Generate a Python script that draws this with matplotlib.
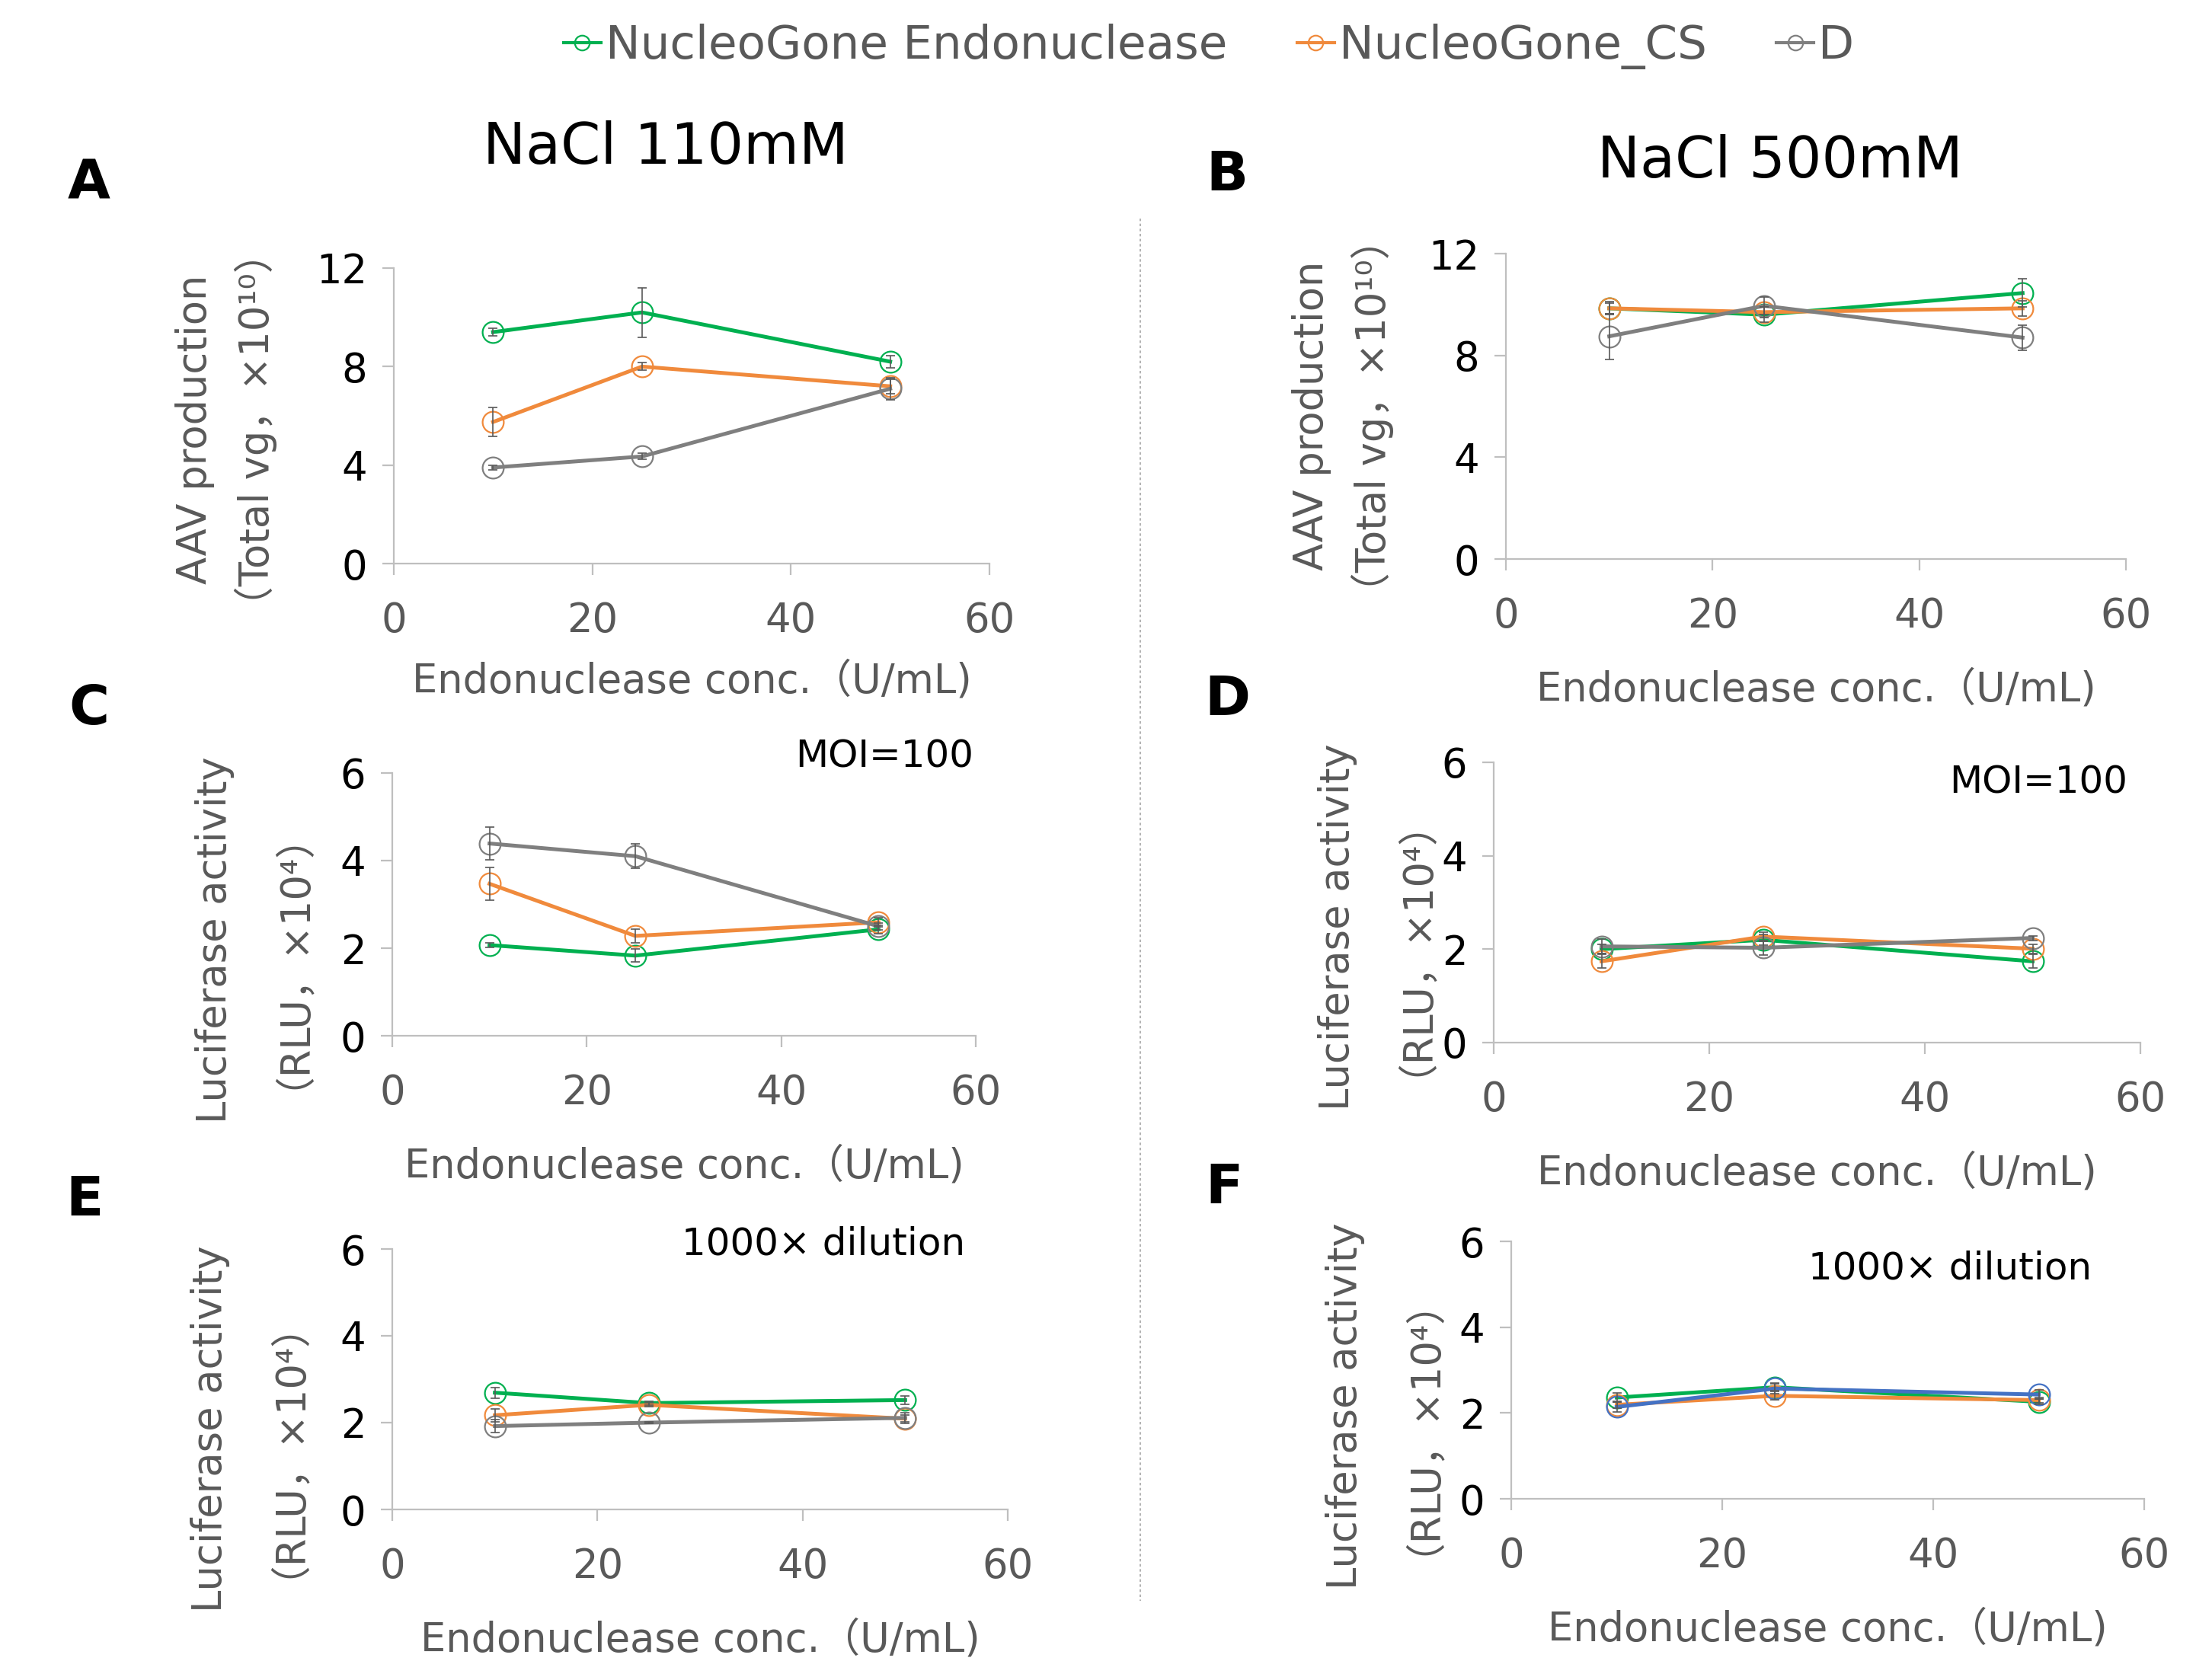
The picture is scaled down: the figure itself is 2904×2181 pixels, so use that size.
"""Endonuclease dose series: AAV production and luciferase activity at two NaCl levels."""
import matplotlib
matplotlib.use("Agg")
import matplotlib.pyplot as plt
from matplotlib.lines import Line2D

# Cores no estilo Excel
GREEN = "#00B050"
ORANGE = "#F08A3C"
GRAY = "#7F7F7F"
BLUE = "#4472C4"
INK = "#000000"
INK_GRAY = "#595959"
AXIS = "#BFBFBF"

NARROW = ["Liberation Sans Narrow", "DejaVu Sans"]
WIDE = ["DejaVu Sans", "Noto Sans CJK JP"]

conc = [10, 25, 50]
series_names = ["NucleoGone Endonuclease", "NucleoGone_CS", "D"]

# Painel A - NaCl 110mM, produção de AAV
a_endo, a_endo_err = [9.4, 10.2, 8.2], [0.15, 1.0, 0.25]
a_cs, a_cs_err = [5.75, 8.0, 7.2], [0.6, 0.15, 0.3]
a_d, a_d_err = [3.9, 4.35, 7.1], [0.1, 0.12, 0.45]
# Painel B - NaCl 500mM, produção de AAV
b_endo, b_endo_err = [9.85, 9.6, 10.45], [0.2, 0.3, 0.55]
b_cs, b_cs_err = [9.85, 9.7, 9.85], [0.25, 0.2, 0.3]
b_d, b_d_err = [8.75, 9.95, 8.7], [0.9, 0.35, 0.5]
# Painel C - NaCl 110mM, luciferase MOI=100
c_endo, c_endo_err = [2.07, 1.83, 2.43], [0.05, 0.15, 0.1]
c_cs, c_cs_err = [3.47, 2.28, 2.59], [0.37, 0.15, 0.1]
c_d, c_d_err = [4.39, 4.1, 2.5], [0.37, 0.28, 0.08]
# Painel D - NaCl 500mM, luciferase MOI=100
d_endo, d_endo_err = [2.0, 2.2, 1.74], [0.1, 0.12, 0.15]
d_cs, d_cs_err = [1.74, 2.27, 2.01], [0.15, 0.1, 0.1]
d_d, d_d_err = [2.06, 2.03, 2.24], [0.15, 0.15, 0.05]
# Painel E - NaCl 110mM, luciferase 1000x diluição
e_endo, e_endo_err = [2.69, 2.45, 2.52], [0.12, 0.05, 0.1]
e_cs, e_cs_err = [2.17, 2.41, 2.09], [0.15, 0.05, 0.08]
e_d, e_d_err = [1.92, 2.0, 2.11], [0.15, 0.02, 0.12]
# Painel F - NaCl 500mM, luciferase 1000x diluição
f_endo, f_endo_err = [2.36, 2.6, 2.26], [0.1, 0.08, 0.06]
f_cs, f_cs_err = [2.19, 2.4, 2.3], [0.08, 0.1, 0.06]
f_d, f_d_err = [2.14, 2.57, 2.43], [0.12, 0.12, 0.1]

xticks = [0, 20, 40, 60]
aav_yticks = [0, 4, 8, 12]
luc_yticks = [0, 2, 4, 6]

XLABEL = "Endonuclease conc.（U/mL)"
AAV_YLABEL = "AAV production\n（Total vg，×10¹⁰）"
LUC_YLABEL = "Luciferase activity\n（RLU，×10⁴）"

W, H = 2904, 2181
fig = plt.figure(figsize=(W / 200, H / 200), dpi=200, facecolor="white")


def px_rect(left, right, top, bottom):
    return [left / W, 1 - bottom / H, (right - left) / W, (bottom - top) / H]


def panel(rect, series, colors, yticks, ylabel, ylab_xy, xlab_pad):
    ax = fig.add_axes(px_rect(*rect))
    for (y, err), color in zip(series, colors):
        ax.plot(conc, y, color=color, lw=1.8, marker="o", ms=10,
                mfc="none", mec=color, mew=0.8, zorder=3)
        ax.errorbar(conc, y, yerr=err, fmt="none", ecolor=INK_GRAY,
                    elinewidth=0.6, capsize=2.2, capthick=0.6, zorder=4)
    ax.set_xlim(0, 60)
    ax.set_ylim(yticks[0], yticks[-1])
    ax.set_xticks(xticks)
    ax.set_yticks(yticks)
    for side in ("top", "right"):
        ax.spines[side].set_visible(False)
    for side in ("left", "bottom"):
        ax.spines[side].set_color(AXIS)
        ax.spines[side].set_linewidth(0.8)
    ax.tick_params(axis="both", direction="out", length=5.5, width=0.8, color=AXIS)
    ax.tick_params(axis="x", pad=12, labelcolor=INK_GRAY)
    ax.tick_params(axis="y", pad=7, labelcolor=INK)
    for lab in ax.get_xticklabels() + ax.get_yticklabels():
        lab.set_family(NARROW)
        lab.set_fontsize(19)
    ax.set_xlabel(XLABEL, family=WIDE, fontsize=19, color=INK_GRAY, labelpad=xlab_pad)
    fig.text(ylab_xy[0] / W, 1 - ylab_xy[1] / H, ylabel, rotation=90,
             ha="center", va="center", multialignment="center",
             family=WIDE, fontsize=19, color=INK_GRAY, linespacing=1.55)
    return ax


cols3 = [GREEN, ORANGE, GRAY]
ax_a = panel((517, 1299, 352, 740),
             [(a_endo, a_endo_err), (a_cs, a_cs_err), (a_d, a_d_err)],
             cols3, aav_yticks, AAV_YLABEL, (297, 564), 10)
ax_b = panel((1977, 2791, 333, 734),
             [(b_endo, b_endo_err), (b_cs, b_cs_err), (b_d, b_d_err)],
             cols3, aav_yticks, AAV_YLABEL, (1763, 546), 16)
ax_c = panel((515, 1281, 1015, 1360),
             [(c_endo, c_endo_err), (c_cs, c_cs_err), (c_d, c_d_err)],
             cols3, luc_yticks, LUC_YLABEL, (319, 1234), 16)
ax_d = panel((1961, 2810, 1001, 1369),
             [(d_endo, d_endo_err), (d_cs, d_cs_err), (d_d, d_d_err)],
             cols3, luc_yticks, LUC_YLABEL, (1793, 1217), 16)
ax_e = panel((515, 1323, 1640, 1982),
             [(e_endo, e_endo_err), (e_cs, e_cs_err), (e_d, e_d_err)],
             cols3, luc_yticks, LUC_YLABEL, (313, 1876), 16)
ax_f = panel((1984, 2815, 1630, 1968),
             [(f_endo, f_endo_err), (f_cs, f_cs_err), (f_d, f_d_err)],
             [GREEN, ORANGE, BLUE], luc_yticks, LUC_YLABEL, (1803, 1846), 16)

# Letras dos painéis
for letter, (x, y) in zip("ABCDEF", [(117, 241), (1611, 231), (117, 931),
                                      (1611, 920), (111, 1576), (1607, 1561)]):
    fig.text(x / W, 1 - y / H, letter, ha="center", va="center",
             fontsize=26, fontweight="bold", color=INK, family="DejaVu Sans")

# Títulos das colunas
fig.text(874 / W, 1 - 194 / H, "NaCl 110mM", ha="center", va="center",
         fontsize=27, color=INK, family=NARROW)
fig.text(2337 / W, 1 - 213 / H, "NaCl 500mM", ha="center", va="center",
         fontsize=27, color=INK, family=NARROW)

# Anotações
for txt, (x, y) in [("MOI=100", (1278, 994)), ("MOI=100", (2793, 1028)),
                    ("1000× dilution", (1267, 1633)), ("1000× dilution", (2746, 1665))]:
    fig.text(x / W, 1 - y / H, txt, ha="right", va="center",
             fontsize=18, color=INK, family=NARROW)

# Linha divisória pontilhada
fig.add_artist(Line2D([1497 / W, 1497 / W], [1 - 287 / H, 1 - 2102 / H],
                      transform=fig.transFigure, color="#A6A6A6", lw=0.6,
                      linestyle=(0, (2, 2))))

# Legenda superior
handles = [Line2D([], [], color=c, lw=1.5, marker="o", ms=7, mfc="none", mec=c, mew=0.8)
           for c in cols3]
fig.legend(handles, series_names, loc="center", bbox_to_anchor=(0.5465, 0.972),
           ncol=3, frameon=False, handlelength=0.8, handletextpad=0.1,
           columnspacing=1.5, prop={"family": "DejaVu Sans", "size": 22},
           labelcolor=INK_GRAY)

fig.savefig("out.png", dpi=200, facecolor="white")
